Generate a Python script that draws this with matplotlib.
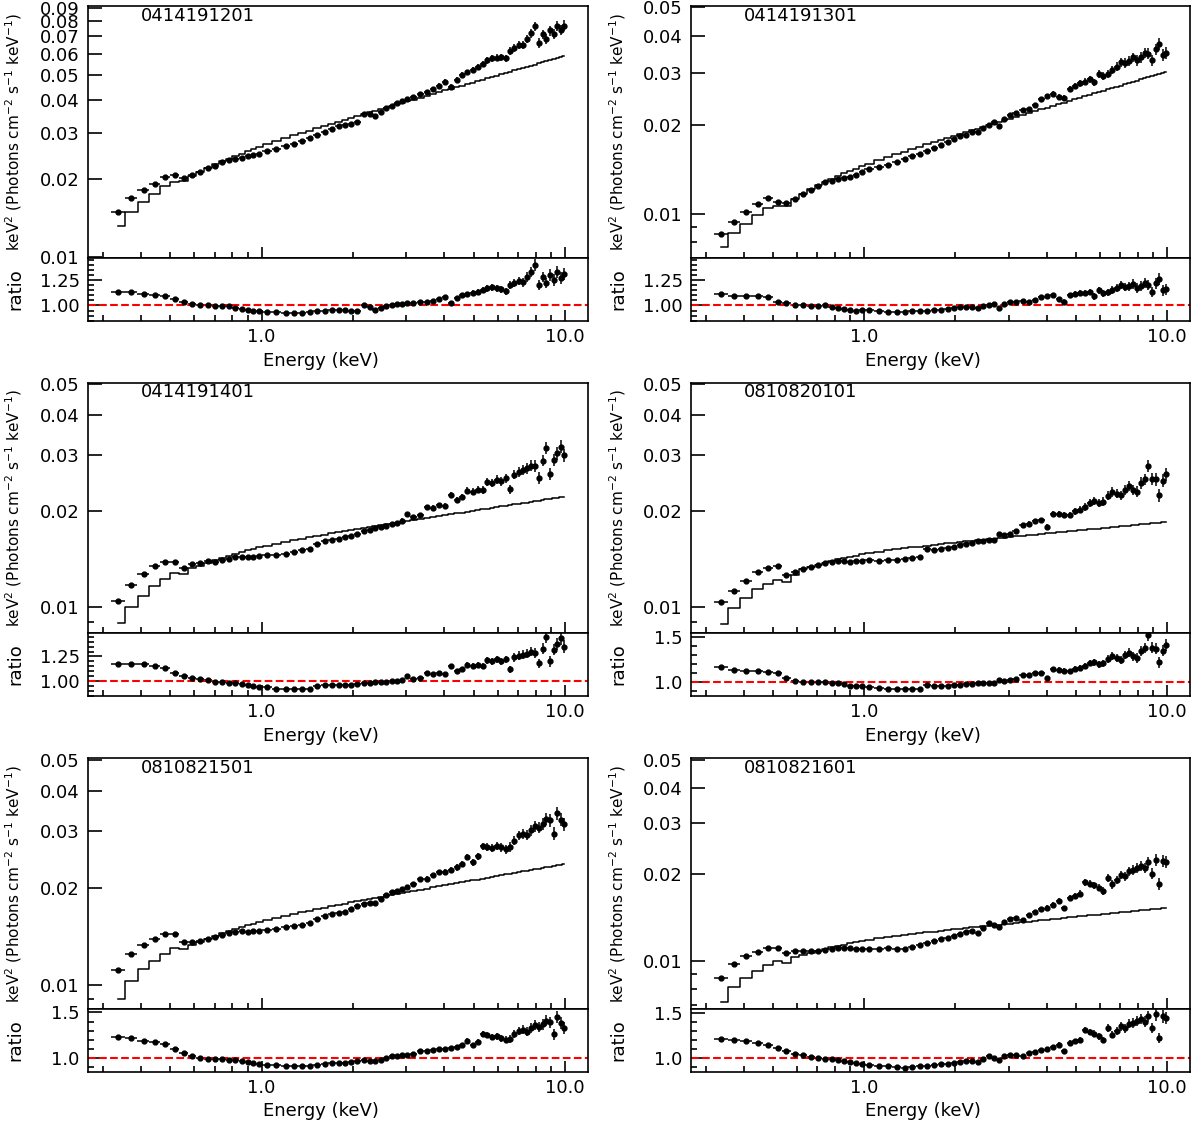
import matplotlib.pyplot as plt
import numpy as np
from matplotlib.ticker import (FixedLocator, MultipleLocator, NullFormatter,
                               FormatStrFormatter, LogLocator)

# spectral bin edges in keV (same grouping used for every observation)
e_edges = [0.32, 0.355, 0.39, 0.427, 0.463, 0.50, 0.536, 0.572, 0.61, 0.648,
           0.686, 0.724, 0.762, 0.80, 0.84, 0.88, 0.92, 0.96, 1.00,
           1.08, 1.16, 1.24, 1.32, 1.40, 1.48, 1.57, 1.66, 1.75, 1.84, 1.93,
           2.02, 2.12, 2.22, 2.32, 2.42, 2.52, 2.63, 2.74, 2.85, 2.96, 3.08,
           3.25, 3.42, 3.59, 3.76, 3.94, 4.12, 4.30, 4.48, 4.67, 4.86, 5.05,
           5.25, 5.45, 5.65, 5.85, 6.06, 6.27, 6.48, 6.70, 6.92, 7.14, 7.37,
           7.60, 7.83, 8.07, 8.31, 8.55, 8.80, 9.05, 9.30, 9.55, 9.80, 10.0]

# fractional 1-sigma errors per bin
rel_err = [0.012, 0.010, 0.010, 0.010, 0.010, 0.010, 0.010, 0.008, 0.008, 0.008,
           0.008, 0.008, 0.008, 0.008, 0.008, 0.008, 0.008, 0.008, 0.008, 0.008,
           0.009, 0.009, 0.009, 0.009, 0.010, 0.010, 0.010, 0.010, 0.011, 0.011,
           0.011, 0.012, 0.012, 0.012, 0.013, 0.013, 0.014, 0.014, 0.015, 0.015,
           0.016, 0.017, 0.018, 0.018, 0.019, 0.020, 0.021, 0.022, 0.023, 0.024,
           0.025, 0.026, 0.027, 0.028, 0.029, 0.030, 0.031, 0.032, 0.033, 0.034,
           0.035, 0.036, 0.037, 0.038, 0.040, 0.041, 0.042, 0.043, 0.044, 0.045,
           0.046, 0.047, 0.048]

obs_ids = ['0414191201', '0414191301', '0414191401',
           '0810820101', '0810821501', '0810821601']

# folded model, keV^2 (Photons cm^-2 s^-1 keV^-1)
model_a = [0.01320, 0.01490, 0.01628, 0.01740, 0.01868, 0.01940, 0.01950, 0.02040, 0.02127, 0.02198,
           0.02264, 0.02326, 0.02383, 0.02437, 0.02493, 0.02544, 0.02592, 0.02639, 0.02704, 0.02783,
           0.02857, 0.02926, 0.02992, 0.03053, 0.03115, 0.03180, 0.03241, 0.03302, 0.03356, 0.03413,
           0.03474, 0.03530, 0.03583, 0.03636, 0.03687, 0.03739, 0.03791, 0.03843, 0.03894, 0.03945,
           0.04008, 0.04079, 0.04148, 0.04214, 0.04281, 0.04348, 0.04411, 0.04474, 0.04536, 0.04598,
           0.04660, 0.04720, 0.04781, 0.04840, 0.04898, 0.04956, 0.05014, 0.05072, 0.05128, 0.05185,
           0.05240, 0.05296, 0.05353, 0.05407, 0.05462, 0.05516, 0.05570, 0.05626, 0.05679, 0.05731,
           0.05784, 0.05835, 0.05880]
model_b = [0.00772, 0.00860, 0.00925, 0.00992, 0.01045, 0.01059, 0.01062, 0.01120, 0.01165, 0.01210,
           0.01252, 0.01285, 0.01314, 0.01343, 0.01371, 0.01398, 0.01422, 0.01447, 0.01479, 0.01520,
           0.01557, 0.01592, 0.01625, 0.01656, 0.01687, 0.01719, 0.01749, 0.01779, 0.01807, 0.01834,
           0.01865, 0.01892, 0.01918, 0.01944, 0.01969, 0.01995, 0.02020, 0.02045, 0.02070, 0.02095,
           0.02126, 0.02160, 0.02193, 0.02226, 0.02258, 0.02290, 0.02321, 0.02352, 0.02381, 0.02412,
           0.02441, 0.02470, 0.02499, 0.02527, 0.02555, 0.02583, 0.02610, 0.02637, 0.02665, 0.02691,
           0.02718, 0.02745, 0.02771, 0.02798, 0.02824, 0.02850, 0.02875, 0.02901, 0.02926, 0.02951,
           0.02976, 0.03000, 0.03021]
model_c = [0.00892, 0.01005, 0.01085, 0.01166, 0.01225, 0.01276, 0.01267, 0.01323, 0.01348, 0.01378,
           0.01404, 0.01429, 0.01450, 0.01470, 0.01489, 0.01507, 0.01523, 0.01539, 0.01559, 0.01583,
           0.01604, 0.01623, 0.01640, 0.01656, 0.01672, 0.01688, 0.01703, 0.01718, 0.01730, 0.01744,
           0.01760, 0.01772, 0.01784, 0.01795, 0.01806, 0.01817, 0.01829, 0.01840, 0.01850, 0.01861,
           0.01874, 0.01888, 0.01902, 0.01916, 0.01929, 0.01942, 0.01955, 0.01967, 0.01979, 0.01991,
           0.02002, 0.02014, 0.02025, 0.02036, 0.02047, 0.02058, 0.02068, 0.02079, 0.02089, 0.02099,
           0.02109, 0.02119, 0.02128, 0.02138, 0.02148, 0.02157, 0.02166, 0.02175, 0.02184, 0.02194,
           0.02202, 0.02211, 0.02218]
model_d = [0.00886, 0.00991, 0.01071, 0.01137, 0.01184, 0.01221, 0.01198, 0.01260, 0.01314, 0.01339,
           0.01360, 0.01380, 0.01396, 0.01411, 0.01426, 0.01440, 0.01451, 0.01463, 0.01477, 0.01493,
           0.01507, 0.01519, 0.01530, 0.01540, 0.01549, 0.01559, 0.01568, 0.01577, 0.01584, 0.01593,
           0.01602, 0.01610, 0.01616, 0.01623, 0.01629, 0.01635, 0.01641, 0.01647, 0.01653, 0.01658,
           0.01666, 0.01674, 0.01681, 0.01688, 0.01695, 0.01703, 0.01709, 0.01716, 0.01722, 0.01729,
           0.01735, 0.01741, 0.01747, 0.01753, 0.01759, 0.01764, 0.01770, 0.01775, 0.01780, 0.01786,
           0.01791, 0.01796, 0.01801, 0.01806, 0.01811, 0.01816, 0.01821, 0.01826, 0.01830, 0.01835,
           0.01840, 0.01844, 0.01848]
model_e = [0.00901, 0.01024, 0.01116, 0.01184, 0.01248, 0.01302, 0.01290, 0.01331, 0.01359, 0.01390,
           0.01419, 0.01445, 0.01468, 0.01490, 0.01511, 0.01531, 0.01548, 0.01566, 0.01588, 0.01614,
           0.01638, 0.01660, 0.01680, 0.01698, 0.01717, 0.01735, 0.01753, 0.01770, 0.01785, 0.01801,
           0.01819, 0.01833, 0.01847, 0.01861, 0.01874, 0.01887, 0.01901, 0.01914, 0.01926, 0.01939,
           0.01954, 0.01972, 0.01988, 0.02005, 0.02020, 0.02036, 0.02051, 0.02066, 0.02080, 0.02095,
           0.02109, 0.02122, 0.02136, 0.02149, 0.02162, 0.02175, 0.02188, 0.02200, 0.02213, 0.02225,
           0.02237, 0.02249, 0.02261, 0.02272, 0.02284, 0.02296, 0.02307, 0.02318, 0.02329, 0.02340,
           0.02351, 0.02361, 0.02371]
model_f = [0.00721, 0.00811, 0.00871, 0.00919, 0.00969, 0.01000, 0.00983, 0.01028, 0.01045, 0.01065,
           0.01083, 0.01099, 0.01113, 0.01126, 0.01139, 0.01150, 0.01160, 0.01170, 0.01182, 0.01196,
           0.01209, 0.01219, 0.01230, 0.01238, 0.01247, 0.01256, 0.01264, 0.01272, 0.01279, 0.01287,
           0.01294, 0.01301, 0.01307, 0.01313, 0.01318, 0.01324, 0.01330, 0.01335, 0.01341, 0.01346,
           0.01354, 0.01362, 0.01369, 0.01376, 0.01383, 0.01389, 0.01396, 0.01402, 0.01408, 0.01414,
           0.01420, 0.01426, 0.01431, 0.01437, 0.01442, 0.01448, 0.01453, 0.01458, 0.01463, 0.01468,
           0.01473, 0.01478, 0.01483, 0.01488, 0.01492, 0.01497, 0.01502, 0.01506, 0.01511, 0.01515,
           0.01519, 0.01524, 0.01527]

# data / model ratio per bin
ratio_a = [1.13, 1.135, 1.11, 1.10, 1.09, 1.06, 1.03, 1.01, 1.00, 1.00,
           0.99, 0.995, 0.99, 0.975, 0.965, 0.955, 0.95, 0.945, 0.94, 0.935,
           0.93, 0.93, 0.93, 0.935, 0.945, 0.95, 0.955, 0.96, 0.955, 0.95,
           0.95, 1.00, 0.985, 0.955, 0.975, 0.995, 1.00, 1.01, 1.015, 1.02,
           1.02, 1.035, 1.03, 1.045, 1.06, 1.08, 1.02, 1.07, 1.10, 1.11,
           1.12, 1.13, 1.15, 1.17, 1.18, 1.17, 1.16, 1.14, 1.20, 1.22,
           1.24, 1.23, 1.28, 1.33, 1.40, 1.20, 1.28, 1.22, 1.30, 1.25,
           1.33, 1.27, 1.31]
ratio_b = [1.11, 1.09, 1.095, 1.09, 1.085, 1.035, 1.025, 1.00, 1.00, 0.995,
           0.995, 1.00, 0.985, 0.975, 0.965, 0.955, 0.95, 0.955, 0.96, 0.945,
           0.94, 0.94, 0.94, 0.945, 0.945, 0.95, 0.955, 0.96, 0.965, 0.975,
           0.985, 0.98, 0.985, 0.975, 0.99, 1.005, 1.01, 0.97, 1.01, 1.03,
           1.035, 1.04, 1.03, 1.05, 1.08, 1.09, 1.10, 1.06, 1.035, 1.10,
           1.11, 1.12, 1.12, 1.13, 1.09, 1.15, 1.12, 1.13, 1.15, 1.17,
           1.20, 1.18, 1.19, 1.21, 1.17, 1.19, 1.22, 1.20, 1.13, 1.22,
           1.26, 1.15, 1.16]
ratio_c = [1.17, 1.17, 1.17, 1.155, 1.13, 1.085, 1.05, 1.035, 1.02, 1.01,
           0.99, 0.985, 0.975, 0.975, 0.965, 0.955, 0.945, 0.94, 0.935, 0.92,
           0.915, 0.915, 0.92, 0.92, 0.945, 0.955, 0.955, 0.955, 0.96, 0.96,
           0.965, 0.975, 0.98, 0.985, 0.985, 0.99, 0.995, 1.00, 1.01, 1.05,
           1.02, 1.03, 1.08, 1.07, 1.08, 1.07, 1.15, 1.10, 1.12, 1.165,
           1.15, 1.16, 1.15, 1.21, 1.20, 1.22, 1.20, 1.22, 1.12, 1.24,
           1.26, 1.27, 1.28, 1.30, 1.29, 1.18, 1.33, 1.45, 1.20, 1.32,
           1.38, 1.44, 1.35]
ratio_d = [1.17, 1.135, 1.13, 1.13, 1.12, 1.10, 1.05, 1.02, 1.005, 1.00,
           1.00, 1.00, 0.995, 0.99, 0.98, 0.965, 0.96, 0.955, 0.95, 0.935,
           0.93, 0.925, 0.925, 0.925, 0.93, 0.975, 0.965, 0.965, 0.965, 0.97,
           0.975, 0.98, 0.985, 0.99, 0.99, 0.995, 0.99, 1.03, 1.02, 1.025,
           1.04, 1.08, 1.085, 1.10, 1.105, 1.05, 1.15, 1.14, 1.13, 1.125,
           1.15, 1.16, 1.18, 1.21, 1.22, 1.20, 1.21, 1.26, 1.29, 1.27,
           1.25, 1.30, 1.33, 1.29, 1.27, 1.35, 1.38, 1.52, 1.38, 1.37,
           1.22, 1.35, 1.41]
ratio_e = [1.23, 1.215, 1.19, 1.175, 1.15, 1.105, 1.055, 1.02, 1.005, 0.995,
           0.99, 0.99, 0.985, 0.98, 0.97, 0.955, 0.945, 0.935, 0.93, 0.925,
           0.92, 0.915, 0.915, 0.915, 0.93, 0.94, 0.945, 0.945, 0.945, 0.955,
           0.965, 0.975, 0.97, 0.965, 0.985, 1.005, 1.02, 1.02, 1.03, 1.035,
           1.05, 1.08, 1.075, 1.09, 1.105, 1.10, 1.11, 1.12, 1.14, 1.19,
           1.14, 1.18, 1.26, 1.25, 1.23, 1.24, 1.22, 1.20, 1.21, 1.26,
           1.30, 1.31, 1.29, 1.33, 1.36, 1.34, 1.37, 1.41, 1.39, 1.26,
           1.45, 1.38, 1.33]
ratio_f = [1.21, 1.205, 1.19, 1.165, 1.14, 1.11, 1.08, 1.05, 1.035, 1.015,
           1.00, 0.995, 0.99, 0.985, 0.975, 0.96, 0.95, 0.94, 0.93, 0.92,
           0.915, 0.905, 0.895, 0.90, 0.91, 0.92, 0.925, 0.935, 0.94, 0.95,
           0.955, 0.965, 0.97, 0.955, 0.99, 1.02, 1.00, 0.98, 1.02, 1.035,
           1.04, 1.02, 1.055, 1.07, 1.09, 1.10, 1.12, 1.15, 1.08, 1.17,
           1.185, 1.20, 1.31, 1.29, 1.27, 1.24, 1.20, 1.33, 1.26, 1.30,
           1.35, 1.33, 1.38, 1.39, 1.41, 1.43, 1.40, 1.46, 1.33, 1.48,
           1.22, 1.46, 1.44]

models = [model_a, model_b, model_c, model_d, model_e, model_f]
ratios = [ratio_a, ratio_b, ratio_c, ratio_d, ratio_e, ratio_f]

# axis ranges / tick choices per panel
flux_lims = [(0.00995, 0.0915), (0.0071, 0.0505), (0.0083, 0.0505),
             (0.0083, 0.0505), (0.0084, 0.0505), (0.0068, 0.0505)]
flux_ticks = [[0.01, 0.02, 0.03, 0.04, 0.05, 0.06, 0.07, 0.08, 0.09]] + \
             [[0.01, 0.02, 0.03, 0.04, 0.05]] * 5
ratio_lims = [(0.85, 1.47), (0.85, 1.47), (0.846, 1.49),
              (0.85, 1.545), (0.852, 1.537), (0.852, 1.54)]
ratio_step = [0.25, 0.25, 0.25, 0.5, 0.5, 0.5]

e_lo = np.array(e_edges[:-1])
e_hi = np.array(e_edges[1:])
energy = 0.5 * (e_lo + e_hi)
e_err = 0.5 * (e_hi - e_lo)
frac = np.array(rel_err)

fig = plt.figure(figsize=(12, 11.24), dpi=100)

col_left = [0.0733, 0.5758]
col_w = [0.4167, 0.4158]
row_main = [(0.7707, 0.2239), (0.4368, 0.2227), (0.1023, 0.2230)]
row_ratio = [(0.7147, 0.0560), (0.3808, 0.0560), (0.0465, 0.0558)]

def style(ax):
    ax.tick_params(which='both', direction='in', top=False, right=False,
                   labelsize=13, width=1.2)
    ax.tick_params(axis='x', which='major', length=8)
    ax.tick_params(axis='y', which='major', length=10, pad=6)
    ax.tick_params(which='minor', length=4.5)
    ax.tick_params(axis='x', pad=5)
    for s in ax.spines.values():
        s.set_linewidth(1.2)

for i in range(6):
    r, c = divmod(i, 2)
    model = np.array(models[i])
    ratio = np.array(ratios[i])
    flux = model * ratio

    ax = fig.add_axes([col_left[c], row_main[r][0], col_w[c], row_main[r][1]])
    ax.step(energy, model, where='mid', color='k', lw=1.1)
    ax.errorbar(energy, flux, xerr=e_err, yerr=flux * frac, fmt='o', ms=3.5,
                color='k', elinewidth=1.1, capsize=0)
    ax.set_xscale('log')
    ax.set_yscale('log')
    ax.set_xlim(0.268, 11.9)
    ax.set_ylim(*flux_lims[i])
    ax.xaxis.set_major_locator(FixedLocator([1.0, 10.0]))
    ax.xaxis.set_minor_locator(LogLocator(base=10, subs=np.arange(2, 10)))
    ax.xaxis.set_major_formatter(NullFormatter())
    ax.xaxis.set_minor_formatter(NullFormatter())
    ax.yaxis.set_major_locator(FixedLocator(flux_ticks[i]))
    ax.yaxis.set_major_formatter(FormatStrFormatter('%.2f'))
    ax.yaxis.set_minor_locator(LogLocator(base=10, subs=np.arange(2, 10)))
    ax.yaxis.set_minor_formatter(NullFormatter())
    style(ax)
    ax.set_ylabel(r'keV$^2$ (Photons cm$^{-2}$ s$^{-1}$ keV$^{-1}$)', fontsize=11)
    ax.yaxis.set_label_coords(-0.127, 0.5)
    ax.text(0.40, 0.962, obs_ids[i], transform=ax.get_xaxis_transform(),
            fontsize=13, va='center', ha='left')

    rx = fig.add_axes([col_left[c], row_ratio[r][0], col_w[c], row_ratio[r][1]])
    rx.errorbar(energy, ratio, xerr=e_err, yerr=ratio * frac, fmt='o', ms=3.5,
                color='k', elinewidth=1.1, capsize=0)
    rx.axhline(1.0, color='red', ls='--', lw=1.5)
    rx.set_xscale('log')
    rx.set_xlim(0.268, 11.9)
    rx.set_ylim(*ratio_lims[i])
    rx.xaxis.set_major_locator(FixedLocator([1.0, 10.0]))
    rx.xaxis.set_minor_locator(LogLocator(base=10, subs=np.arange(2, 10)))
    rx.xaxis.set_major_formatter(FormatStrFormatter('%.1f'))
    rx.xaxis.set_minor_formatter(NullFormatter())
    step = ratio_step[i]
    rx.yaxis.set_major_locator(MultipleLocator(step))
    rx.yaxis.set_minor_locator(MultipleLocator(step / 5))
    rx.yaxis.set_major_formatter(FormatStrFormatter('%.2f' if step < 0.5 else '%.1f'))
    style(rx)
    rx.set_ylabel('ratio', fontsize=13)
    rx.yaxis.set_label_coords(-0.127, 0.5)
    rx.set_xlabel('Energy (keV)', fontsize=13)
    rx.xaxis.set_label_coords(0.465, -0.49)

fig.savefig('out.png', dpi=100)
